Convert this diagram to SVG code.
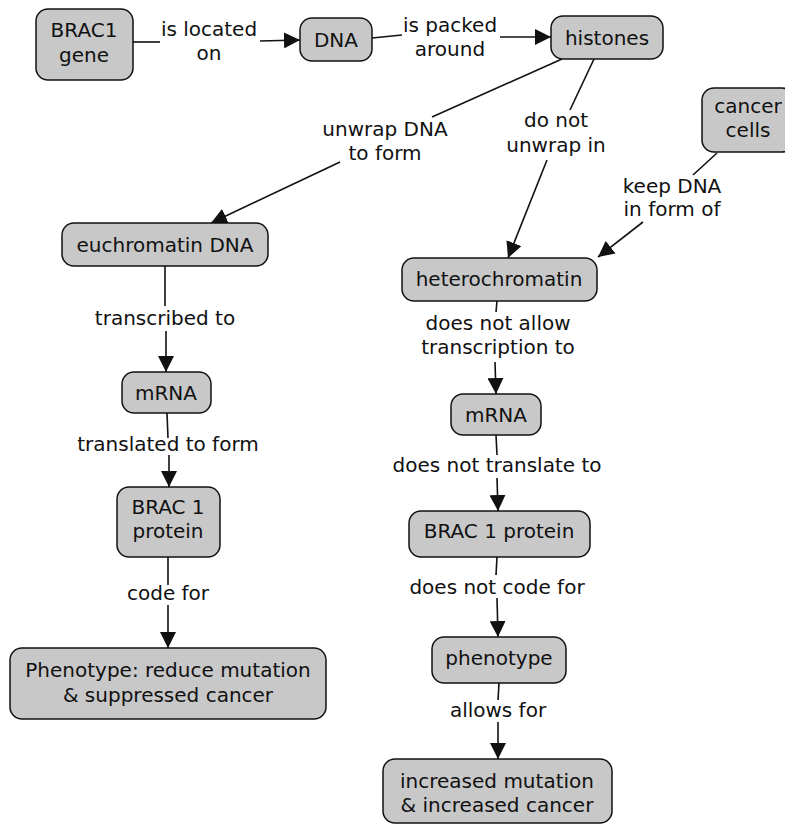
<svg xmlns="http://www.w3.org/2000/svg" width="785" height="825" viewBox="0 0 785 825">
<style>
.n rect{fill:#c8c8c8;stroke:#111;stroke-width:1.5}
text{font-family:"DejaVu Sans",Verdana,sans-serif;font-size:20px;fill:#111;text-anchor:middle}
.c path{fill:none;stroke:#111;stroke-width:1.6}
</style>
<defs>
<marker id="ah" viewBox="0 0 16 16" refX="16" refY="8" markerWidth="16" markerHeight="16" markerUnits="userSpaceOnUse" orient="auto">
<path d="M0,0 L16,8 L0,16 z" fill="#111"/>
</marker>
</defs>
<rect width="785" height="825" fill="#fff"/>
<g class="c" id="connectors">
<path d="M133,42 L160,42"/><path d="M260,41 L300,40" marker-end="url(#ah)"/>
<path d="M372,38 L402,35"/><path d="M500,37 L551,37" marker-end="url(#ah)"/>
<path d="M562,59 L432,117"/><path d="M340,162 L211,223" marker-end="url(#ah)"/>
<path d="M594,59 L570,110"/><path d="M547,160 L508,258" marker-end="url(#ah)"/>
<path d="M717,153 L693,175"/><path d="M643,222 L598,257" marker-end="url(#ah)"/>
<path d="M165,266 L165,306"/><path d="M166,331 L166,372" marker-end="url(#ah)"/>
<path d="M167,413 L168,438"/><path d="M169,455 L169,487" marker-end="url(#ah)"/>
<path d="M168,557 L168,585"/><path d="M168,605 L168,648" marker-end="url(#ah)"/>
<path d="M497,301 L496,312"/><path d="M495,362 L496,394" marker-end="url(#ah)"/>
<path d="M496,435 L497,455"/><path d="M497,478 L498,511" marker-end="url(#ah)"/>
<path d="M497,557 L496,575"/><path d="M497,598 L498,637" marker-end="url(#ah)"/>
<path d="M499,683 L498,700"/><path d="M498,722 L498,759" marker-end="url(#ah)"/>
</g>
<g id="labels">
<text x="209" y="36">is located</text><text x="209" y="60">on</text>
<text x="450" y="32">is packed</text><text x="450" y="56">around</text>
<text x="385" y="136">unwrap DNA</text><text x="385" y="160">to form</text>
<text x="556" y="127">do not</text><text x="556" y="152">unwrap in</text>
<text x="672" y="193">keep DNA</text><text x="672" y="216">in form of</text>
<text x="165" y="325">transcribed to</text>
<text x="168" y="451">translated to form</text>
<text x="168" y="600">code for</text>
<text x="498" y="330">does not allow</text><text x="498" y="354">transcription to</text>
<text x="497" y="472">does not translate to</text>
<text x="497" y="594">does not code for</text>
<text x="498" y="717">allows for</text>
</g>
<g class="n" id="brac1gene"><rect x="36" y="9" width="97" height="71" rx="12"/><text x="84" y="37">BRAC1</text><text x="84" y="62">gene</text></g>
<g class="n" id="dna"><rect x="300" y="18" width="72" height="43" rx="12"/><text x="336" y="47">DNA</text></g>
<g class="n" id="histones"><rect x="551" y="16" width="112" height="43" rx="12"/><text x="607" y="45">histones</text></g>
<g class="n" id="cancercells"><rect x="702" y="88" width="92" height="64" rx="12"/><text x="748" y="113">cancer</text><text x="748" y="137">cells</text></g>
<g class="n" id="euchromatin"><rect x="62" y="223" width="206" height="43" rx="12"/><text x="165" y="252">euchromatin DNA</text></g>
<g class="n" id="heterochromatin"><rect x="402" y="258" width="195" height="43" rx="12"/><text x="499" y="286">heterochromatin</text></g>
<g class="n" id="mrna1"><rect x="122" y="372" width="89" height="41" rx="12"/><text x="166" y="400">mRNA</text></g>
<g class="n" id="mrna2"><rect x="451" y="394" width="90" height="41" rx="12"/><text x="496" y="422">mRNA</text></g>
<g class="n" id="brac1protein1"><rect x="117" y="487" width="103" height="70" rx="12"/><text x="168" y="514">BRAC 1</text><text x="168" y="538">protein</text></g>
<g class="n" id="brac1protein2"><rect x="409" y="511" width="181" height="46" rx="12"/><text x="499" y="538">BRAC 1 protein</text></g>
<g class="n" id="phenotype1"><rect x="10" y="648" width="316" height="71" rx="12"/><text x="168" y="677">Phenotype: reduce mutation</text><text x="168" y="702">&amp; suppressed cancer</text></g>
<g class="n" id="phenotype2"><rect x="432" y="637" width="134" height="46" rx="12"/><text x="499" y="665">phenotype</text></g>
<g class="n" id="increased"><rect x="383" y="759" width="229" height="64" rx="12"/><text x="497" y="788">increased mutation</text><text x="497" y="812">&amp; increased cancer</text></g>
</svg>
